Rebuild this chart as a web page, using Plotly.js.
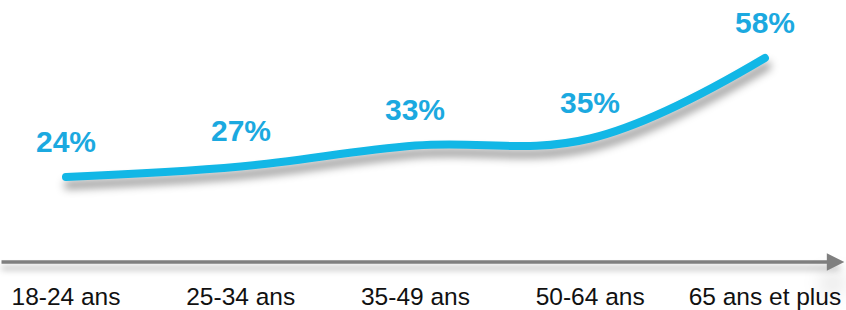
<!DOCTYPE html>
<html>
<head>
<meta charset="utf-8">
<script src="https://cdn.plot.ly/plotly-3.0.1.min.js"></script>
<style>
  html, body { margin: 0; padding: 0; background: #ffffff; }
  #chart { width: 846px; height: 310px; }
</style>
</head>
<body>
<div id="chart"></div>
<script>
const categories = ["18-24 ans", "25-34 ans", "35-49 ans", "50-64 ans", "65 ans et plus"];
const values = [24, 27, 33, 35, 58];
const valueLabels = ["24%", "27%", "33%", "35%", "58%"];

const xIdx = categories.map((c, i) => i);

const lineTrace = {
  x: xIdx,
  y: values,
  mode: "lines",
  line: { color: "#12B7E6", width: 8, shape: "spline", smoothing: 1.1 },
  hoverinfo: "skip",
  showlegend: false
};

const labelAnnotations = xIdx.map((x, i) => ({
  x: x, y: values[i], xref: "x", yref: "y",
  text: "<b>" + valueLabels[i] + "</b>",
  showarrow: false,
  yshift: 36,
  font: { family: "Liberation Sans, Arial, sans-serif", size: 30, color: "#1BA9E0" }
}));

const axisArrow = {
  xref: "paper", yref: "paper",
  x: 0.998, y: -0.008,
  axref: "pixel", ayref: "pixel",
  ax: -846, ay: 0,
  text: "",
  showarrow: true,
  arrowhead: 2,
  arrowsize: 1,
  arrowwidth: 3.5,
  arrowcolor: "#7F7F7F"
};

const layout = {
  width: 846,
  height: 310,
  margin: { l: 0, r: 0, t: 0, b: 50 },
  paper_bgcolor: "#ffffff",
  plot_bgcolor: "#ffffff",
  showlegend: false,
  xaxis: {
    range: [-0.3777, 4.464],
    tickmode: "array",
    tickvals: xIdx,
    ticktext: categories,
    showgrid: false,
    zeroline: false,
    showline: false,
    ticks: "",
    ticklabelstandoff: 19,
    ticklabeloverflow: "allow",
    tickfont: { family: "Liberation Sans, Arial, sans-serif", size: 24.5, color: "#111111" },
    fixedrange: true
  },
  yaxis: {
    range: [0.286, 74.57],
    visible: false,
    showgrid: false,
    zeroline: false,
    fixedrange: true
  },
  annotations: labelAnnotations.concat([axisArrow])
};

Plotly.newPlot("chart", [lineTrace], layout, { displayModeBar: false, staticPlot: true }).then(() => {
  document.querySelectorAll("#chart .scatterlayer .js-line").forEach(p => {
    p.style.filter = "drop-shadow(2px 8px 4px rgba(0,0,0,0.4))";
    p.style.strokeLinecap = "round";
  });
  document.querySelectorAll("#chart .annotation-arrow-g path").forEach(p => {
    p.style.filter = "drop-shadow(0px 6px 3px rgba(0,0,0,0.3))";
  });
});
</script>
</body>
</html>
